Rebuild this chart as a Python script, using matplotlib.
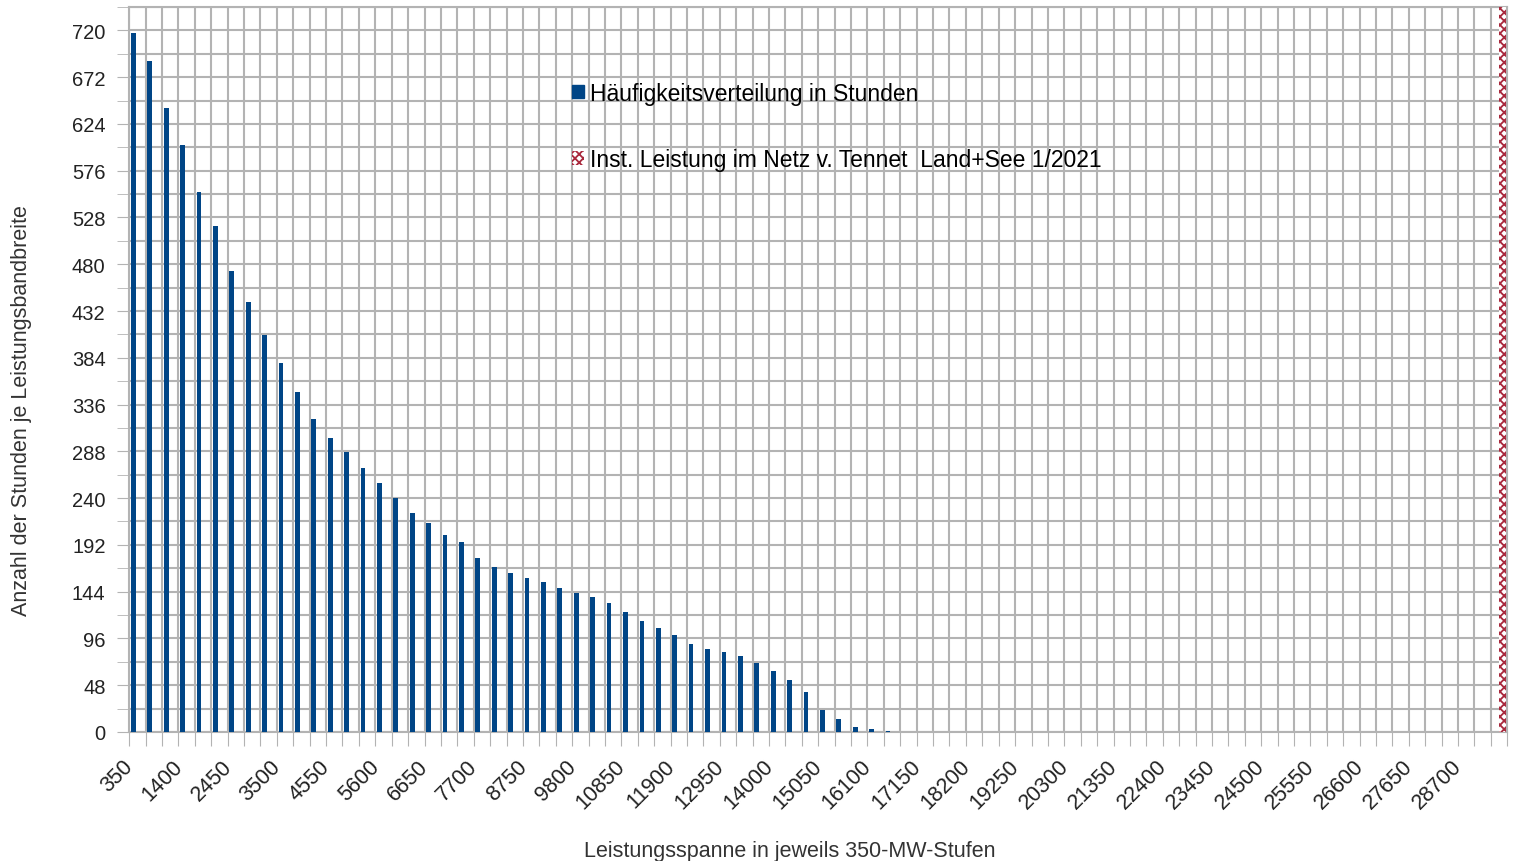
import matplotlib
matplotlib.use('Agg')
import matplotlib.pyplot as plt
from matplotlib.patches import Patch
from matplotlib.ticker import MultipleLocator

plt.rcParams['font.family'] = ['Liberation Sans', 'DejaVu Sans']
plt.rcParams['hatch.linewidth'] = 1.3

# Leistungsstufen (MW), 84 Kategorien zu je 350 MW
stufen = list(range(350, 29401, 350))

# Haeufigkeitsverteilung in Stunden
stunden = [717, 689, 640, 602, 554, 519, 473, 441, 407, 379,
           349, 321, 302, 287, 271, 255, 240, 225, 214, 202,
           195, 179, 169, 163, 158, 154, 148, 143, 138, 132,
           123, 114, 107, 99, 90, 85, 82, 78, 71, 63,
           53, 41, 23, 13, 5, 3, 1]
stunden = stunden + [0] * (len(stufen) - len(stunden))

# installierte Leistung Tennet Land+See 1/2021 -> letzte Kategorie
inst_leistung = [0] * (len(stufen) - 1) + [744]

blue = '#004586'
red = '#a8283c'
grid_col = '#b3b3b3'

fig = plt.figure(figsize=(15.15, 8.62), dpi=100)
ax = fig.add_axes([0.0853, 0.1497, 0.9096, 0.8410])

n = len(stufen)
pos = list(range(n))
ax.bar([p + 0.25 for p in pos], stunden, width=0.29, color=blue, zorder=3)
ax.bar([p + 0.72 for p in pos], inst_leistung, width=0.42, facecolor='white',
       edgecolor=red, hatch='xxxx', linewidth=0, zorder=3)

ax.set_xlim(0, n)
ax.set_ylim(0, 744)

# y-Achse
ax.yaxis.set_major_locator(MultipleLocator(48))
ax.yaxis.set_minor_locator(MultipleLocator(24))
ax.tick_params(axis='y', which='both', length=9, color=grid_col, pad=8,
               labelsize=14.5, labelcolor='#222222')

# x-Achse: Striche an Kategoriegrenzen, Beschriftung jede 3. Kategorie
ax.set_xticks(list(range(n + 1)))
ax.set_xticklabels([])
ax.set_xticks([i + 0.5 for i in range(0, n, 3)], minor=True)
ax.set_xticklabels([str(stufen[i]) for i in range(0, n, 3)], minor=True,
                   rotation=45, ha='right', va='top')
ax.tick_params(axis='x', which='major', length=10, color=grid_col)
ax.tick_params(axis='x', which='minor', length=0, pad=17, labelsize=15.5,
               labelcolor='#222222')

ax.grid(True, which='major', axis='x', color=grid_col, linewidth=1.5, zorder=0)
ax.grid(True, which='both', axis='y', color=grid_col, linewidth=1.5, zorder=0)
ax.set_axisbelow(True)
for s in ax.spines.values():
    s.set_color(grid_col)
    s.set_linewidth(1.5)

handles = [Patch(facecolor=blue, edgecolor=blue),
           Patch(facecolor='white', edgecolor=red, hatch='xxxx', linewidth=0)]
ax.legend(handles, ['Häufigkeitsverteilung in Stunden',
                    'Inst. Leistung im Netz v. Tennet  Land+See 1/2021'],
          loc='upper left', bbox_to_anchor=(0.321, 0.897), frameon=False,
          fontsize=16.5, handlelength=0.55, handleheight=0.55, handletextpad=0.25,
          labelspacing=1.88, borderpad=0, borderaxespad=0)

fig.text(0.0145, 0.524, 'Anzahl der Stunden je Leistungsbandbreite', rotation=90,
         ha='center', va='center', fontsize=15.5, color='#333333')
fig.text(0.521, 0.012, 'Leistungsspanne in jeweils 350-MW-Stufen',
         ha='center', va='center', fontsize=15.5, color='#333333')

fig.savefig('out.png', dpi=100)
